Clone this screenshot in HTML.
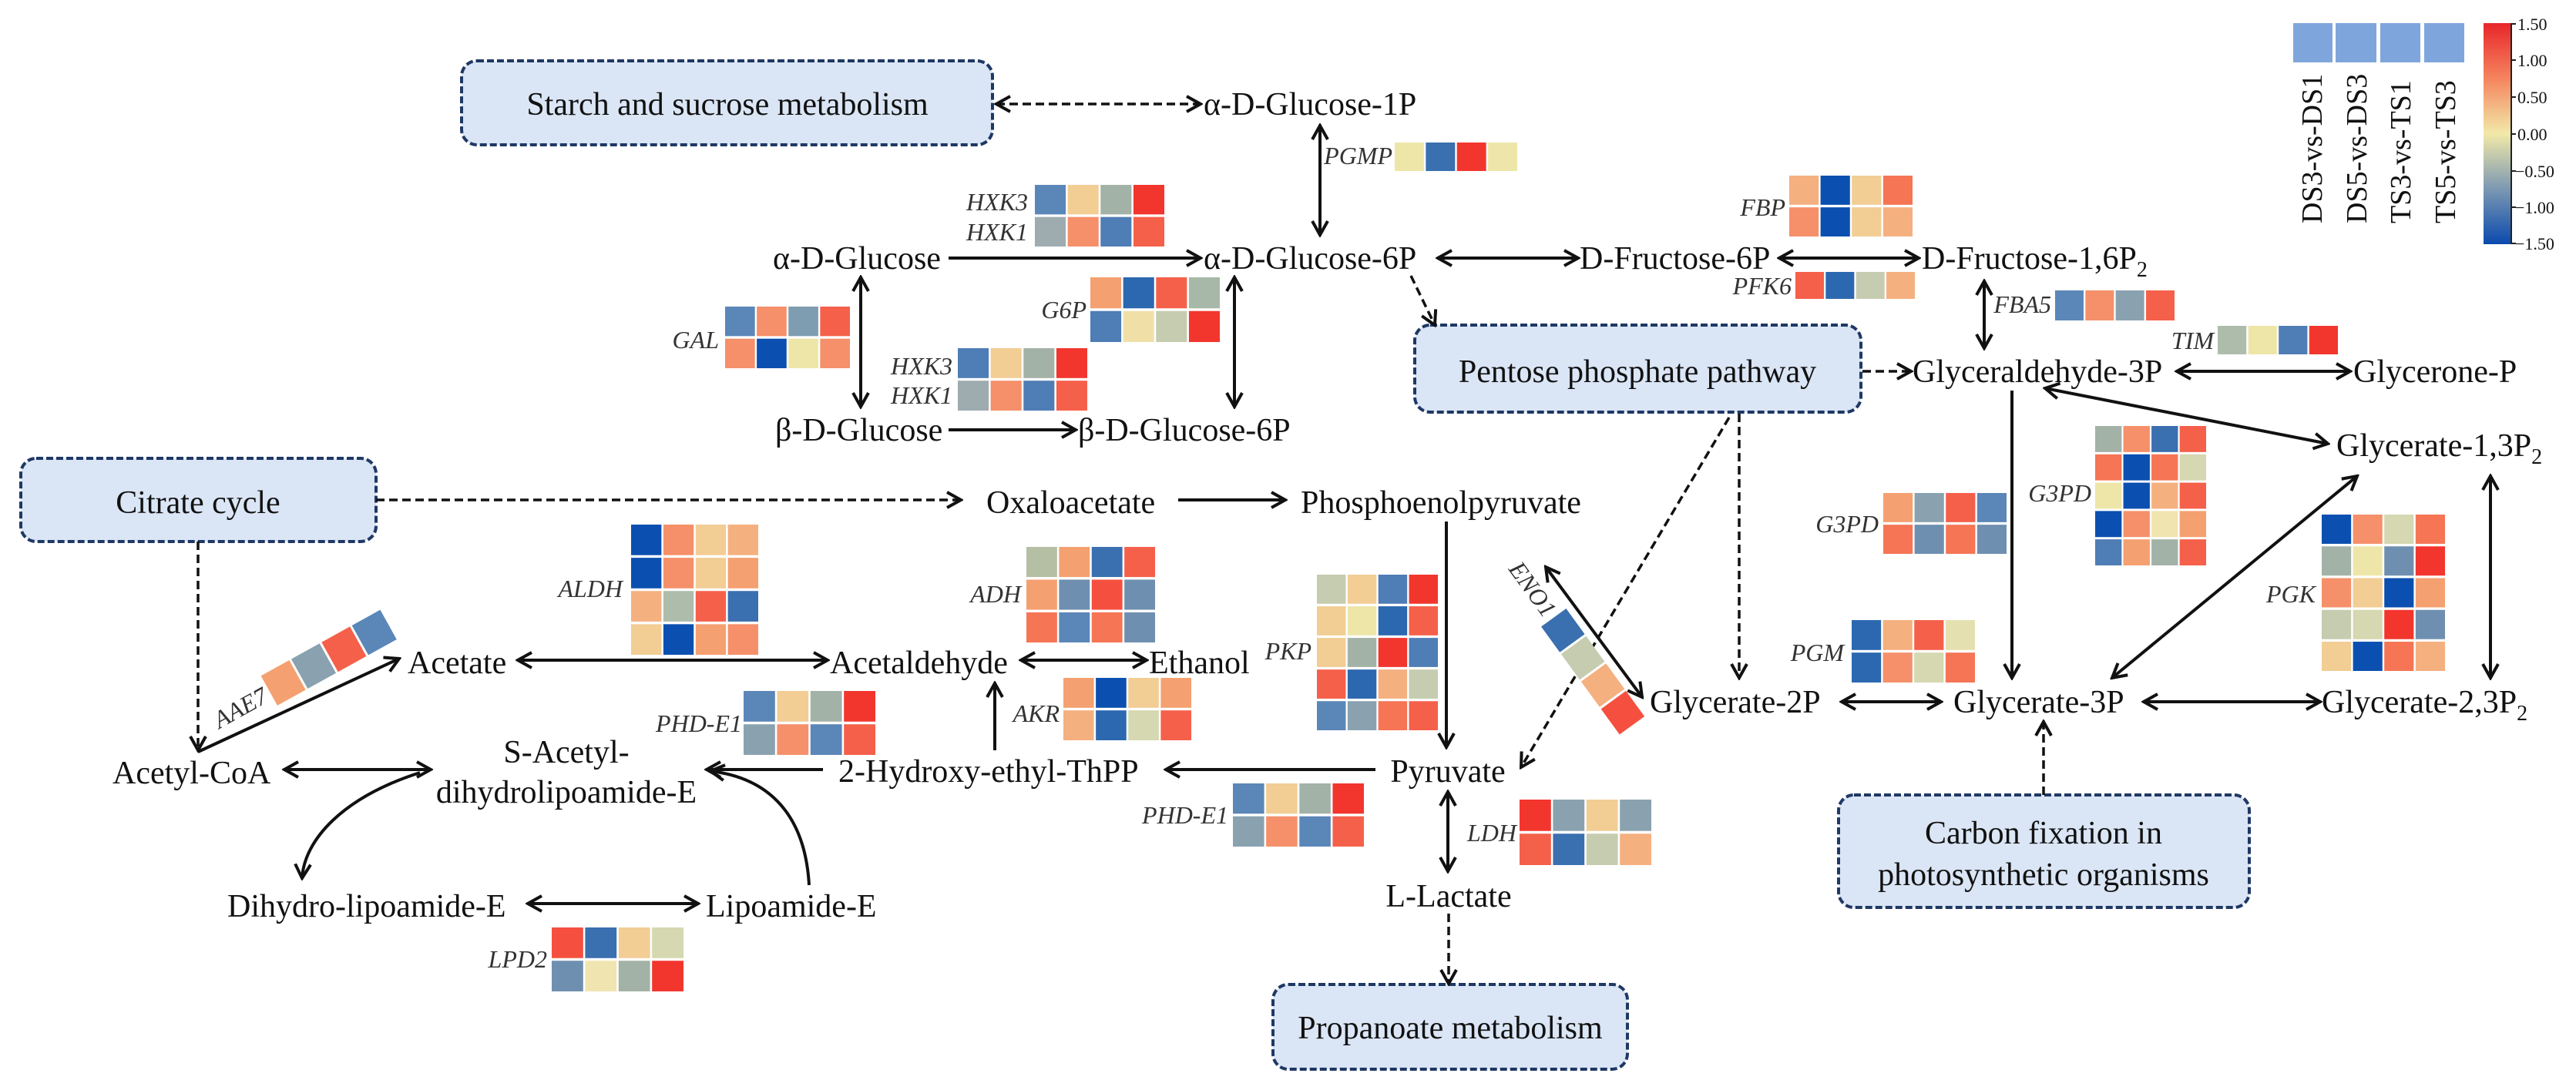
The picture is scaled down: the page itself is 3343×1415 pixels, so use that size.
<!DOCTYPE html>
<html><head><meta charset="utf-8"><style>
html,body{margin:0;padding:0;background:#fff;}
svg{display:block;}
text{font-family:"Liberation Serif",serif;fill:#111;}
.m{font-size:42px;}
.e{font-size:32px;font-style:italic;text-anchor:end;fill:#333;}
.bx{fill:#dae5f5;stroke:#1f3864;stroke-width:4;stroke-dasharray:9 4;}
.l{stroke:#111;stroke-width:4;fill:none;}
.d{stroke:#111;stroke-width:3.5;fill:none;stroke-dasharray:11 6;}
</style></head><body>
<svg width="3343" height="1415" viewBox="0 0 3343 1415" xmlns="http://www.w3.org/2000/svg">
<defs>
<marker id="a" markerUnits="userSpaceOnUse" markerWidth="26" markerHeight="26" viewBox="0 0 26 26" refX="23" refY="13" orient="auto-start-reverse">
<path d="M5,3 L23,13 L5,23" fill="none" stroke="#111" stroke-width="4"/>
</marker>
<linearGradient id="cb" x1="0" y1="0" x2="0" y2="1">
<stop offset="0" stop-color="#e8262a"/><stop offset="0.25" stop-color="#f5845e"/><stop offset="0.5" stop-color="#f2e9a8"/><stop offset="0.75" stop-color="#7c98b2"/><stop offset="1" stop-color="#0a4aae"/>
</linearGradient>
</defs>

<!-- boxes -->
<rect class="bx" x="599" y="79" width="689" height="109" rx="20"/>
<text class="m" x="944" y="149" text-anchor="middle">Starch and sucrose metabolism</text>
<rect class="bx" x="27" y="595" width="461" height="108" rx="20"/>
<text class="m" x="257" y="666" text-anchor="middle">Citrate cycle</text>
<rect class="bx" x="1836" y="422" width="579" height="113" rx="20"/>
<text class="m" x="2125" y="496" text-anchor="middle">Pentose phosphate pathway</text>
<rect class="bx" x="1652" y="1278" width="460" height="110" rx="20"/>
<text class="m" x="1882" y="1348" text-anchor="middle">Propanoate metabolism</text>
<rect class="bx" x="2386" y="1032" width="533" height="146" rx="20"/>
<text class="m" x="2652" y="1095" text-anchor="middle">Carbon fixation in</text>
<text class="m" x="2652" y="1149" text-anchor="middle">photosynthetic organisms</text>

<!-- metabolites -->
<text class="m" x="1562" y="149">α-D-Glucose-1P</text>
<text class="m" x="1003" y="349">α-D-Glucose</text>
<text class="m" x="1562" y="349">α-D-Glucose-6P</text>
<text class="m" x="2050" y="349">D-Fructose-6P</text>
<text class="m" x="2494" y="349">D-Fructose-1,6P<tspan font-size="28" dy="10">2</tspan></text>
<text class="m" x="1006" y="572">β-D-Glucose</text>
<text class="m" x="1399" y="572">β-D-Glucose-6P</text>
<text class="m" x="1280" y="666">Oxaloacetate</text>
<text class="m" x="1688" y="666">Phosphoenolpyruvate</text>
<text class="m" x="2482" y="496">Glyceraldehyde-3P</text>
<text class="m" x="3054" y="496">Glycerone-P</text>
<text class="m" x="3032" y="592">Glycerate-1,3P<tspan font-size="28" dy="10">2</tspan></text>
<text class="m" x="529" y="874">Acetate</text>
<text class="m" x="1077" y="874">Acetaldehyde</text>
<text class="m" x="1491" y="874">Ethanol</text>
<text class="m" x="735" y="990" text-anchor="middle">S-Acetyl-</text>
<text class="m" x="735" y="1042" text-anchor="middle">dihydrolipoamide-E</text>
<text class="m" x="146" y="1017">Acetyl-CoA</text>
<text class="m" x="1088" y="1015">2-Hydroxy-ethyl-ThPP</text>
<text class="m" x="1879" y="1015" text-anchor="middle">Pyruvate</text>
<text class="m" x="2141" y="925">Glycerate-2P</text>
<text class="m" x="2535" y="925">Glycerate-3P</text>
<text class="m" x="3013" y="925">Glycerate-2,3P<tspan font-size="28" dy="10">2</tspan></text>
<text class="m" x="295" y="1190">Dihydro-lipoamide-E</text>
<text class="m" x="916" y="1190">Lipoamide-E</text>
<text class="m" x="1880" y="1177" text-anchor="middle">L-Lactate</text>

<!-- connectors -->
<g marker-end="url(#a)">
<line class="d" x1="1293" y1="135" x2="1558" y2="135" marker-start="url(#a)"/>
<line class="l" x1="1713" y1="163" x2="1713" y2="305" marker-start="url(#a)"/>
<line class="l" x1="1231" y1="335" x2="1558" y2="335"/>
<line class="l" x1="1866" y1="335" x2="2048" y2="335" marker-start="url(#a)"/>
<line class="l" x1="2309" y1="335" x2="2490" y2="335" marker-start="url(#a)"/>
<line class="l" x1="2575" y1="365" x2="2575" y2="452" marker-start="url(#a)"/>
<line class="d" x1="2417" y1="482" x2="2480" y2="482"/>
<line class="l" x1="2825" y1="482" x2="3050" y2="482" marker-start="url(#a)"/>
<line class="d" x1="1831" y1="358" x2="1862" y2="422"/>
<line class="l" x1="1117" y1="360" x2="1117" y2="528" marker-start="url(#a)"/>
<line class="l" x1="1602" y1="360" x2="1602" y2="528" marker-start="url(#a)"/>
<line class="l" x1="1231" y1="558" x2="1396" y2="558"/>
<line class="d" x1="488" y1="649" x2="1247" y2="649"/>
<line class="l" x1="1529" y1="649" x2="1668" y2="649"/>
<line class="l" x1="1877" y1="677" x2="1877" y2="970"/>
<line class="l" x1="2611" y1="507" x2="2611" y2="880"/>
<line class="l" x1="2654" y1="504" x2="3021" y2="576" marker-start="url(#a)"/>
<line class="l" x1="3059" y1="618" x2="2741" y2="880" marker-start="url(#a)"/>
<line class="l" x1="3232" y1="618" x2="3232" y2="880" marker-start="url(#a)"/>
<line class="d" x1="2244" y1="542" x2="1974" y2="996"/>
<line class="d" x1="2257" y1="537" x2="2257" y2="880"/>
<line class="l" x1="2006" y1="736" x2="2131" y2="905" marker-start="url(#a)"/>
<line class="l" x1="2390" y1="911" x2="2519" y2="911" marker-start="url(#a)"/>
<line class="l" x1="2782" y1="911" x2="3011" y2="911" marker-start="url(#a)"/>
<line class="d" x1="2652" y1="1032" x2="2652" y2="937"/>
<line class="d" x1="257" y1="703" x2="257" y2="974"/>
<line class="l" x1="257" y1="976" x2="518" y2="855"/>
<line class="l" x1="672" y1="857" x2="1074" y2="857" marker-start="url(#a)"/>
<line class="l" x1="1325" y1="857" x2="1488" y2="857" marker-start="url(#a)"/>
<line class="l" x1="1291" y1="974" x2="1291" y2="887"/>
<line class="l" x1="369" y1="999" x2="559" y2="999" marker-start="url(#a)"/>
<line class="l" x1="1068" y1="999" x2="917" y2="999"/>
<line class="l" x1="1785" y1="999" x2="1513" y2="999"/>
<path class="l" d="M545,1003 C445,1035 395,1090 392,1140"/>
<path class="l" d="M1050,1149 C1045,1060 1000,1010 922,1001"/>
<line class="l" x1="685" y1="1173" x2="906" y2="1173" marker-start="url(#a)"/>
<line class="l" x1="1879" y1="1028" x2="1879" y2="1131" marker-start="url(#a)"/>
<line class="d" x1="1880" y1="1186" x2="1880" y2="1277"/>
</g>

<!-- enzyme labels -->
<text class="e" x="1807" y="213">PGMP</text>
<text class="e" x="1334" y="273">HXK3</text>
<text class="e" x="1334" y="312">HXK1</text>
<text class="e" x="2317" y="280">FBP</text>
<text class="e" x="2325" y="382">PFK6</text>
<text class="e" x="2662" y="406">FBA5</text>
<text class="e" x="2873" y="453">TIM</text>
<text class="e" x="933" y="452">GAL</text>
<text class="e" x="1410" y="413">G6P</text>
<text class="e" x="1236" y="486">HXK3</text>
<text class="e" x="1236" y="524">HXK1</text>
<text class="e" x="808" y="775">ALDH</text>
<text class="e" x="1325" y="782">ADH</text>
<text class="e" x="1375" y="937">AKR</text>
<text class="e" x="963" y="950">PHD-E1</text>
<text class="e" x="1594" y="1069">PHD-E1</text>
<text class="e" x="710" y="1256">LPD2</text>
<text class="e" x="1702" y="856">PKP</text>
<text class="e" x="1968" y="1092">LDH</text>
<text class="e" x="2438" y="691">G3PD</text>
<text class="e" x="2714" y="651">G3PD</text>
<text class="e" x="2393" y="858">PGM</text>
<text class="e" x="3005" y="782">PGK</text>

<!-- heatmaps -->
<svg x="1810" y="185" width="159" height="37" viewBox="0 0 3.94 0.92" preserveAspectRatio="none">
<rect x="0" y="0" width=".94" height=".92" fill="#eee6a8"/><rect x="1" y="0" width=".94" height=".92" fill="#3a6fb0"/><rect x="2" y="0" width=".94" height=".92" fill="#f2362e"/><rect x="3" y="0" width=".94" height=".92" fill="#eee6a8"/>
</svg>
<svg x="1343" y="240" width="168" height="80" viewBox="0 0 3.94 1.92" preserveAspectRatio="none">
<rect x="0" y="0" width=".94" height=".92" fill="#5b86b8"/><rect x="1" y="0" width=".94" height=".92" fill="#f2cd94"/><rect x="2" y="0" width=".94" height=".92" fill="#a3b2a7"/><rect x="3" y="0" width=".94" height=".92" fill="#f2362e"/>
<rect x="0" y="1" width=".94" height=".92" fill="#9eacb0"/><rect x="1" y="1" width=".94" height=".92" fill="#f5906a"/><rect x="2" y="1" width=".94" height=".92" fill="#4f7db5"/><rect x="3" y="1" width=".94" height=".92" fill="#f5604a"/>
</svg>
<svg x="2322" y="228" width="160" height="79" viewBox="0 0 3.94 1.92" preserveAspectRatio="none">
<rect x="0" y="0" width=".94" height=".92" fill="#f5b080"/><rect x="1" y="0" width=".94" height=".92" fill="#0b50b0"/><rect x="2" y="0" width=".94" height=".92" fill="#f2cd94"/><rect x="3" y="0" width=".94" height=".92" fill="#f57555"/>
<rect x="0" y="1" width=".94" height=".92" fill="#f5906a"/><rect x="1" y="1" width=".94" height=".92" fill="#0b50b0"/><rect x="2" y="1" width=".94" height=".92" fill="#f2cd94"/><rect x="3" y="1" width=".94" height=".92" fill="#f5b080"/>
</svg>
<svg x="2330" y="353" width="155" height="35" viewBox="0 0 3.94 0.92" preserveAspectRatio="none">
<rect x="0" y="0" width=".94" height=".92" fill="#f5604a"/><rect x="1" y="0" width=".94" height=".92" fill="#2c68b0"/><rect x="2" y="0" width=".94" height=".92" fill="#c5ccb0"/><rect x="3" y="0" width=".94" height=".92" fill="#f5b080"/>
</svg>
<svg x="2667" y="377" width="155" height="39" viewBox="0 0 3.94 0.92" preserveAspectRatio="none">
<rect x="0" y="0" width=".94" height=".92" fill="#5b86b8"/><rect x="1" y="0" width=".94" height=".92" fill="#f5906a"/><rect x="2" y="0" width=".94" height=".92" fill="#8aa2b0"/><rect x="3" y="0" width=".94" height=".92" fill="#f5604a"/>
</svg>
<svg x="2878" y="423" width="156" height="37" viewBox="0 0 3.94 0.92" preserveAspectRatio="none">
<rect x="0" y="0" width=".94" height=".92" fill="#aebcac"/><rect x="1" y="0" width=".94" height=".92" fill="#eee6a8"/><rect x="2" y="0" width=".94" height=".92" fill="#4f7db5"/><rect x="3" y="0" width=".94" height=".92" fill="#f2362e"/>
</svg>
<svg x="941" y="398" width="162" height="80" viewBox="0 0 3.94 1.92" preserveAspectRatio="none">
<rect x="0" y="0" width=".94" height=".92" fill="#5b86b8"/><rect x="1" y="0" width=".94" height=".92" fill="#f5906a"/><rect x="2" y="0" width=".94" height=".92" fill="#7f9db0"/><rect x="3" y="0" width=".94" height=".92" fill="#f5604a"/>
<rect x="0" y="1" width=".94" height=".92" fill="#f5906a"/><rect x="1" y="1" width=".94" height=".92" fill="#0b50b0"/><rect x="2" y="1" width=".94" height=".92" fill="#eee6a8"/><rect x="3" y="1" width=".94" height=".92" fill="#f5906a"/>
</svg>
<svg x="1415" y="360" width="168" height="84" viewBox="0 0 3.94 1.92" preserveAspectRatio="none">
<rect x="0" y="0" width=".94" height=".92" fill="#f5a070"/><rect x="1" y="0" width=".94" height=".92" fill="#2c68b0"/><rect x="2" y="0" width=".94" height=".92" fill="#f5604a"/><rect x="3" y="0" width=".94" height=".92" fill="#a8b8a8"/>
<rect x="0" y="1" width=".94" height=".92" fill="#4f7db5"/><rect x="1" y="1" width=".94" height=".92" fill="#f0e0a8"/><rect x="2" y="1" width=".94" height=".92" fill="#c5ccb0"/><rect x="3" y="1" width=".94" height=".92" fill="#f2362e"/>
</svg>
<svg x="1243" y="452" width="168" height="81" viewBox="0 0 3.94 1.92" preserveAspectRatio="none">
<rect x="0" y="0" width=".94" height=".92" fill="#4f7db5"/><rect x="1" y="0" width=".94" height=".92" fill="#f2cd94"/><rect x="2" y="0" width=".94" height=".92" fill="#a3b2a7"/><rect x="3" y="0" width=".94" height=".92" fill="#f2362e"/>
<rect x="0" y="1" width=".94" height=".92" fill="#9eacb0"/><rect x="1" y="1" width=".94" height=".92" fill="#f5906a"/><rect x="2" y="1" width=".94" height=".92" fill="#4f7db5"/><rect x="3" y="1" width=".94" height=".92" fill="#f5604a"/>
</svg>
<svg x="819" y="681" width="165" height="169" viewBox="0 0 3.94 3.92" preserveAspectRatio="none">
<rect x="0" y="0" width=".94" height=".92" fill="#0b50b0"/><rect x="1" y="0" width=".94" height=".92" fill="#f5906a"/><rect x="2" y="0" width=".94" height=".92" fill="#f2cd94"/><rect x="3" y="0" width=".94" height=".92" fill="#f5b080"/>
<rect x="0" y="1" width=".94" height=".92" fill="#0b50b0"/><rect x="1" y="1" width=".94" height=".92" fill="#f5906a"/><rect x="2" y="1" width=".94" height=".92" fill="#f2cd94"/><rect x="3" y="1" width=".94" height=".92" fill="#f5a070"/>
<rect x="0" y="2" width=".94" height=".92" fill="#f5b080"/><rect x="1" y="2" width=".94" height=".92" fill="#aebcac"/><rect x="2" y="2" width=".94" height=".92" fill="#f5604a"/><rect x="3" y="2" width=".94" height=".92" fill="#3a6fb0"/>
<rect x="0" y="3" width=".94" height=".92" fill="#f2cd94"/><rect x="1" y="3" width=".94" height=".92" fill="#0b50b0"/><rect x="2" y="3" width=".94" height=".92" fill="#f5a070"/><rect x="3" y="3" width=".94" height=".92" fill="#f5906a"/>
</svg>
<svg x="1332" y="710" width="167" height="124" viewBox="0 0 3.94 2.92" preserveAspectRatio="none">
<rect x="0" y="0" width=".94" height=".92" fill="#b5bfa3"/><rect x="1" y="0" width=".94" height=".92" fill="#f5a070"/><rect x="2" y="0" width=".94" height=".92" fill="#3a6fb0"/><rect x="3" y="0" width=".94" height=".92" fill="#f5604a"/>
<rect x="0" y="1" width=".94" height=".92" fill="#f5a070"/><rect x="1" y="1" width=".94" height=".92" fill="#6f8fb0"/><rect x="2" y="1" width=".94" height=".92" fill="#f5503f"/><rect x="3" y="1" width=".94" height=".92" fill="#6f8fb0"/>
<rect x="0" y="2" width=".94" height=".92" fill="#f57555"/><rect x="1" y="2" width=".94" height=".92" fill="#5b86b8"/><rect x="2" y="2" width=".94" height=".92" fill="#f57555"/><rect x="3" y="2" width=".94" height=".92" fill="#6f8fb0"/>
</svg>
<svg x="1380" y="880" width="166" height="81" viewBox="0 0 3.94 1.92" preserveAspectRatio="none">
<rect x="0" y="0" width=".94" height=".92" fill="#f5a070"/><rect x="1" y="0" width=".94" height=".92" fill="#0b50b0"/><rect x="2" y="0" width=".94" height=".92" fill="#f2cd94"/><rect x="3" y="0" width=".94" height=".92" fill="#f5a070"/>
<rect x="0" y="1" width=".94" height=".92" fill="#f5b080"/><rect x="1" y="1" width=".94" height=".92" fill="#2c68b0"/><rect x="2" y="1" width=".94" height=".92" fill="#d5d8b0"/><rect x="3" y="1" width=".94" height=".92" fill="#f5604a"/>
</svg>
<svg x="965" y="897" width="171" height="83" viewBox="0 0 3.94 1.92" preserveAspectRatio="none">
<rect x="0" y="0" width=".94" height=".92" fill="#5b86b8"/><rect x="1" y="0" width=".94" height=".92" fill="#f2cd94"/><rect x="2" y="0" width=".94" height=".92" fill="#a3b2a7"/><rect x="3" y="0" width=".94" height=".92" fill="#f2362e"/>
<rect x="0" y="1" width=".94" height=".92" fill="#8aa2b0"/><rect x="1" y="1" width=".94" height=".92" fill="#f5906a"/><rect x="2" y="1" width=".94" height=".92" fill="#5b86b8"/><rect x="3" y="1" width=".94" height=".92" fill="#f5604a"/>
</svg>
<svg x="1600" y="1017" width="170" height="82" viewBox="0 0 3.94 1.92" preserveAspectRatio="none">
<rect x="0" y="0" width=".94" height=".92" fill="#5b86b8"/><rect x="1" y="0" width=".94" height=".92" fill="#f2cd94"/><rect x="2" y="0" width=".94" height=".92" fill="#a3b2a7"/><rect x="3" y="0" width=".94" height=".92" fill="#f2362e"/>
<rect x="0" y="1" width=".94" height=".92" fill="#8aa2b0"/><rect x="1" y="1" width=".94" height=".92" fill="#f5906a"/><rect x="2" y="1" width=".94" height=".92" fill="#5b86b8"/><rect x="3" y="1" width=".94" height=".92" fill="#f5604a"/>
</svg>
<svg x="716" y="1204" width="171" height="83" viewBox="0 0 3.94 1.92" preserveAspectRatio="none">
<rect x="0" y="0" width=".94" height=".92" fill="#f5503f"/><rect x="1" y="0" width=".94" height=".92" fill="#3a6fb0"/><rect x="2" y="0" width=".94" height=".92" fill="#f2cd94"/><rect x="3" y="0" width=".94" height=".92" fill="#d5d8b0"/>
<rect x="0" y="1" width=".94" height=".92" fill="#6f8fb0"/><rect x="1" y="1" width=".94" height=".92" fill="#f0e4b0"/><rect x="2" y="1" width=".94" height=".92" fill="#a3b2a7"/><rect x="3" y="1" width=".94" height=".92" fill="#f2362e"/>
</svg>
<svg x="1709" y="746" width="157" height="202" viewBox="0 0 3.94 4.92" preserveAspectRatio="none">
<rect x="0" y="0" width=".94" height=".92" fill="#c5ccb0"/><rect x="1" y="0" width=".94" height=".92" fill="#f2cd94"/><rect x="2" y="0" width=".94" height=".92" fill="#4f7db5"/><rect x="3" y="0" width=".94" height=".92" fill="#f2362e"/>
<rect x="0" y="1" width=".94" height=".92" fill="#f2cd94"/><rect x="1" y="1" width=".94" height=".92" fill="#eee6a8"/><rect x="2" y="1" width=".94" height=".92" fill="#2c68b0"/><rect x="3" y="1" width=".94" height=".92" fill="#f5604a"/>
<rect x="0" y="2" width=".94" height=".92" fill="#f2cd94"/><rect x="1" y="2" width=".94" height=".92" fill="#a3b2a7"/><rect x="2" y="2" width=".94" height=".92" fill="#f2362e"/><rect x="3" y="2" width=".94" height=".92" fill="#4f7db5"/>
<rect x="0" y="3" width=".94" height=".92" fill="#f5604a"/><rect x="1" y="3" width=".94" height=".92" fill="#2c68b0"/><rect x="2" y="3" width=".94" height=".92" fill="#f5b080"/><rect x="3" y="3" width=".94" height=".92" fill="#c5ccb0"/>
<rect x="0" y="4" width=".94" height=".92" fill="#5b86b8"/><rect x="1" y="4" width=".94" height=".92" fill="#8aa2b0"/><rect x="2" y="4" width=".94" height=".92" fill="#f57555"/><rect x="3" y="4" width=".94" height=".92" fill="#f5604a"/>
</svg>
<svg x="1972" y="1038" width="171" height="85" viewBox="0 0 3.94 1.92" preserveAspectRatio="none">
<rect x="0" y="0" width=".94" height=".92" fill="#f2362e"/><rect x="1" y="0" width=".94" height=".92" fill="#8aa2b0"/><rect x="2" y="0" width=".94" height=".92" fill="#f2cd94"/><rect x="3" y="0" width=".94" height=".92" fill="#8aa2b0"/>
<rect x="0" y="1" width=".94" height=".92" fill="#f5604a"/><rect x="1" y="1" width=".94" height=".92" fill="#3a6fb0"/><rect x="2" y="1" width=".94" height=".92" fill="#c5ccb0"/><rect x="3" y="1" width=".94" height=".92" fill="#f5b080"/>
</svg>
<svg x="2444" y="640" width="160" height="79" viewBox="0 0 3.94 1.92" preserveAspectRatio="none">
<rect x="0" y="0" width=".94" height=".92" fill="#f5a070"/><rect x="1" y="0" width=".94" height=".92" fill="#8aa2b0"/><rect x="2" y="0" width=".94" height=".92" fill="#f5604a"/><rect x="3" y="0" width=".94" height=".92" fill="#5b86b8"/>
<rect x="0" y="1" width=".94" height=".92" fill="#f57555"/><rect x="1" y="1" width=".94" height=".92" fill="#6f8fb0"/><rect x="2" y="1" width=".94" height=".92" fill="#f57555"/><rect x="3" y="1" width=".94" height=".92" fill="#6f8fb0"/>
</svg>
<svg x="2719" y="553" width="144" height="181" viewBox="0 0 3.94 4.92" preserveAspectRatio="none">
<rect x="0" y="0" width=".94" height=".92" fill="#a3b2a7"/><rect x="1" y="0" width=".94" height=".92" fill="#f5906a"/><rect x="2" y="0" width=".94" height=".92" fill="#3a6fb0"/><rect x="3" y="0" width=".94" height=".92" fill="#f5604a"/>
<rect x="0" y="1" width=".94" height=".92" fill="#f57555"/><rect x="1" y="1" width=".94" height=".92" fill="#0b50b0"/><rect x="2" y="1" width=".94" height=".92" fill="#f57555"/><rect x="3" y="1" width=".94" height=".92" fill="#d5d8b0"/>
<rect x="0" y="2" width=".94" height=".92" fill="#eee6a8"/><rect x="1" y="2" width=".94" height=".92" fill="#0b50b0"/><rect x="2" y="2" width=".94" height=".92" fill="#f5b080"/><rect x="3" y="2" width=".94" height=".92" fill="#f5604a"/>
<rect x="0" y="3" width=".94" height=".92" fill="#0b50b0"/><rect x="1" y="3" width=".94" height=".92" fill="#f5906a"/><rect x="2" y="3" width=".94" height=".92" fill="#f0e4b0"/><rect x="3" y="3" width=".94" height=".92" fill="#f5a070"/>
<rect x="0" y="4" width=".94" height=".92" fill="#4f7db5"/><rect x="1" y="4" width=".94" height=".92" fill="#f5a070"/><rect x="2" y="4" width=".94" height=".92" fill="#a3b2a7"/><rect x="3" y="4" width=".94" height=".92" fill="#f5604a"/>
</svg>
<svg x="2403" y="805" width="160" height="81" viewBox="0 0 3.94 1.92" preserveAspectRatio="none">
<rect x="0" y="0" width=".94" height=".92" fill="#2c68b0"/><rect x="1" y="0" width=".94" height=".92" fill="#f5b080"/><rect x="2" y="0" width=".94" height=".92" fill="#f5604a"/><rect x="3" y="0" width=".94" height=".92" fill="#e5e0b0"/>
<rect x="0" y="1" width=".94" height=".92" fill="#2c68b0"/><rect x="1" y="1" width=".94" height=".92" fill="#f5906a"/><rect x="2" y="1" width=".94" height=".92" fill="#d5d8b0"/><rect x="3" y="1" width=".94" height=".92" fill="#f57555"/>
</svg>
<svg x="3013" y="668" width="160" height="203" viewBox="0 0 3.94 4.92" preserveAspectRatio="none">
<rect x="0" y="0" width=".94" height=".92" fill="#0b50b0"/><rect x="1" y="0" width=".94" height=".92" fill="#f5906a"/><rect x="2" y="0" width=".94" height=".92" fill="#d5d8b0"/><rect x="3" y="0" width=".94" height=".92" fill="#f57555"/>
<rect x="0" y="1" width=".94" height=".92" fill="#a3b2a7"/><rect x="1" y="1" width=".94" height=".92" fill="#eee6a8"/><rect x="2" y="1" width=".94" height=".92" fill="#6f8fb0"/><rect x="3" y="1" width=".94" height=".92" fill="#f2362e"/>
<rect x="0" y="2" width=".94" height=".92" fill="#f5906a"/><rect x="1" y="2" width=".94" height=".92" fill="#f2cd94"/><rect x="2" y="2" width=".94" height=".92" fill="#0b50b0"/><rect x="3" y="2" width=".94" height=".92" fill="#f5a070"/>
<rect x="0" y="3" width=".94" height=".92" fill="#c5ccb0"/><rect x="1" y="3" width=".94" height=".92" fill="#d5d8b0"/><rect x="2" y="3" width=".94" height=".92" fill="#f2362e"/><rect x="3" y="3" width=".94" height=".92" fill="#6f8fb0"/>
<rect x="0" y="4" width=".94" height=".92" fill="#f2cd94"/><rect x="1" y="4" width=".94" height=".92" fill="#0b50b0"/><rect x="2" y="4" width=".94" height=".92" fill="#f57555"/><rect x="3" y="4" width=".94" height=".92" fill="#f5b080"/>
</svg>

<!-- AAE7 rotated -->
<g transform="translate(428,853) rotate(-29)">
<rect x="-90" y="-22" width="42" height="44" fill="#f5a070"/>
<rect x="-45" y="-22" width="42" height="44" fill="#8aa2b0"/>
<rect x="0" y="-22" width="42" height="44" fill="#f5604a"/>
<rect x="45" y="-22" width="42" height="44" fill="#5b86b8"/>
<text class="e" x="-96" y="12" style="text-anchor:end">AAE7</text>
</g>
<!-- ENO1 rotated -->
<g transform="translate(2068,873) rotate(54)">
<rect x="-88" y="-20" width="41" height="40" fill="#3a6fb0"/>
<rect x="-44" y="-20" width="41" height="40" fill="#c5ccb0"/>
<rect x="0" y="-20" width="41" height="40" fill="#f5b080"/>
<rect x="44" y="-20" width="41" height="40" fill="#f5503f"/>
<text class="e" x="-94" y="11" style="text-anchor:end">ENO1</text>
</g>

<!-- legend -->
<rect x="2976" y="30" width="51" height="51" fill="#7fa6dc"/>
<rect x="3031" y="30" width="53" height="51" fill="#7fa6dc"/>
<rect x="3089" y="30" width="52" height="51" fill="#7fa6dc"/>
<rect x="3146" y="30" width="52" height="51" fill="#7fa6dc"/>
<g font-size="38">
<text transform="translate(3013,290) rotate(-90)">DS3-vs-DS1</text>
<text transform="translate(3071,290) rotate(-90)">DS5-vs-DS3</text>
<text transform="translate(3128,290) rotate(-90)">TS3-vs-TS1</text>
<text transform="translate(3186,290) rotate(-90)">TS5-vs-TS3</text>
</g>
<rect x="3223" y="30" width="36" height="287" fill="url(#cb)"/>
<line x1="3259" y1="30" x2="3259" y2="317" stroke="#222" stroke-width="2"/>
<g stroke="#222" stroke-width="2">
<line x1="3259" y1="31" x2="3265" y2="31"/><line x1="3259" y1="78" x2="3265" y2="78"/><line x1="3259" y1="126" x2="3265" y2="126"/><line x1="3259" y1="174" x2="3265" y2="174"/><line x1="3259" y1="222" x2="3265" y2="222"/><line x1="3259" y1="269" x2="3265" y2="269"/><line x1="3259" y1="316" x2="3265" y2="316"/>
</g>
<g font-size="22">
<text x="3267" y="39">1.50</text>
<text x="3267" y="86">1.00</text>
<text x="3267" y="134">0.50</text>
<text x="3267" y="182">0.00</text>
<text x="3264" y="230">−0.50</text>
<text x="3264" y="277">−1.00</text>
<text x="3264" y="324">−1.50</text>
</g>
</svg>
</body></html>
